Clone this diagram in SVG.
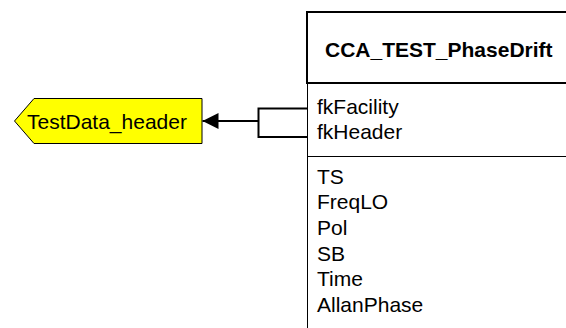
<svg xmlns="http://www.w3.org/2000/svg" width="566" height="328" viewBox="0 0 566 328">
<style>
text { font-family: "Liberation Sans", Arial, sans-serif; font-size: 21px; fill: #000; }
.title { font-weight: bold; }
.thin { stroke: #000; stroke-width: 1; fill: none; }
.conn { stroke: #000; stroke-width: 2; fill: none; }
</style>
<defs>
<marker id="arr" markerUnits="userSpaceOnUse" markerWidth="17" markerHeight="17" refX="16" refY="8" orient="auto">
<path d="M0,0 L16,8 L0,16 Z" fill="#000"/>
</marker>
</defs>
<rect width="566" height="328" fill="#fff"/>
<g id="TestData_header">
<polygon points="14.5,121 34,98.5 202,98.5 202,143.5 34,143.5" fill="#ffff00" stroke="#000" stroke-width="1"/>
<text x="27" y="128.5">TestData_header</text>
</g>
<g id="CCA_TEST_PhaseDrift">
<rect x="307" y="12" width="270" height="71" fill="#fff" stroke="#000" stroke-width="2"/>
<text class="title" x="325" y="57">CCA_TEST_PhaseDrift</text>
<line class="thin" x1="307.5" y1="83" x2="307.5" y2="328"/>
<line class="thin" x1="307" y1="156.5" x2="566" y2="156.5"/>
<text x="317" y="114">fkFacility</text>
<text x="317" y="139">fkHeader</text>
<text x="317" y="183.5">TS</text>
<text x="317" y="209">FreqLO</text>
<text x="317" y="234.5">Pol</text>
<text x="317" y="260.5">SB</text>
<text x="317" y="286">Time</text>
<text x="317" y="311.5">AllanPhase</text>
</g>
<g id="connectors">
<path class="conn" d="M307,108.5 H258.5 V137 H307"/>
<line class="conn" x1="258.5" y1="121" x2="202.5" y2="121" marker-end="url(#arr)"/>
</g>
</svg>
